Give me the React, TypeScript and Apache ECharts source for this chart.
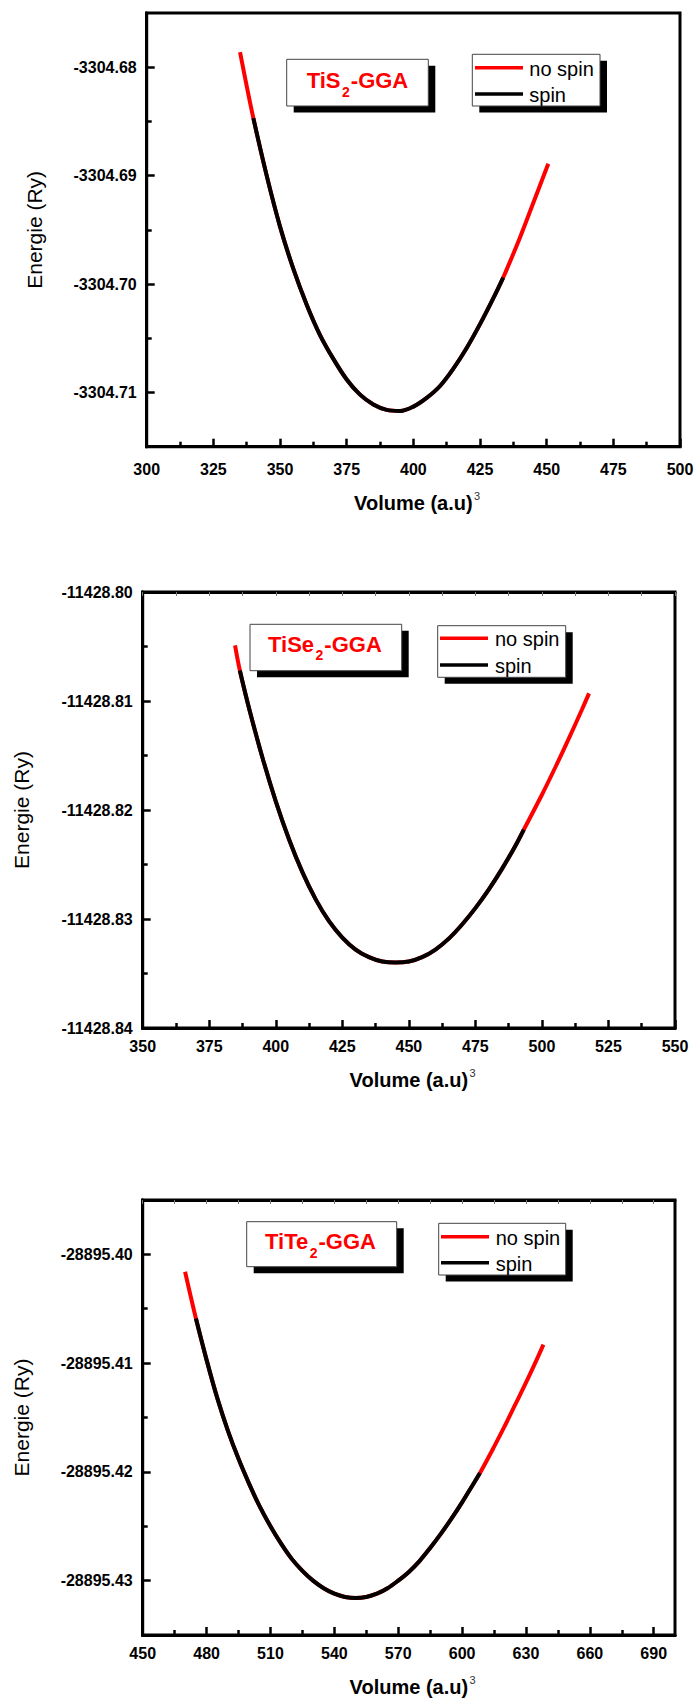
import React, { useEffect, useRef } from "react";
import * as echarts from "echarts";

const FONT = "Liberation Sans, Arial, Helvetica, sans-serif";

// ---------- TiS2 ----------
const tis2NoSpinVolume = [335.0, 340.0, 345.0, 350.0, 355.0, 360.0, 365.0, 370.0, 375.0, 380.0, 385.0, 390.0, 395.0, 400.0, 405.0, 410.0, 415.0, 420.0, 425.0, 430.0, 433.7, 440.0, 445.0, 450.6];
const tis2NoSpinEnergy = [-3304.6786, -3304.6847, -3304.69, -3304.6947, -3304.6986, -3304.7019, -3304.7047, -3304.7069, -3304.7088, -3304.7102, -3304.7111, -3304.7116, -3304.7117, -3304.7113, -3304.7105, -3304.7094, -3304.7078, -3304.7059, -3304.7037, -3304.7013, -3304.6994, -3304.6957, -3304.6925, -3304.6889];
const tis2SpinVolume = [340.0, 345.0, 350.0, 355.0, 360.0, 365.0, 370.0, 375.0, 380.0, 385.0, 390.0, 395.0, 400.0, 405.0, 410.0, 415.0, 420.0, 425.0, 430.0, 433.7];
const tis2SpinEnergy = [-3304.6847, -3304.69, -3304.6947, -3304.6986, -3304.7019, -3304.7047, -3304.7069, -3304.7088, -3304.7102, -3304.7111, -3304.7116, -3304.7117, -3304.7113, -3304.7105, -3304.7094, -3304.7078, -3304.7059, -3304.7037, -3304.7013, -3304.6994];
const tis2XTicks = [300, 325, 350, 375, 400, 425, 450, 475, 500];
const tis2XMinor = [312.5, 337.5, 362.5, 387.5, 412.5, 437.5, 462.5, 487.5];
const tis2YTicks = [-3304.71, -3304.7, -3304.69, -3304.68];
const tis2YMinor = [-3304.705, -3304.695, -3304.685];

// ---------- TiSe2 ----------
const tise2NoSpinVolume = [384.7, 386.5, 390, 395, 400, 405, 410, 415, 420, 425, 430, 435, 440, 445, 450, 455, 460, 465, 470, 475, 480, 485, 490, 493.2, 500, 505, 510, 515, 517.7];
const tise2NoSpinEnergy = [-11428.8049, -11428.8072, -11428.8107, -11428.8152, -11428.8192, -11428.8227, -11428.8257, -11428.8282, -11428.8302, -11428.8317, -11428.8328, -11428.8335, -11428.8339, -11428.834, -11428.8339, -11428.8335, -11428.8328, -11428.8318, -11428.8305, -11428.829, -11428.8273, -11428.8254, -11428.8233, -11428.8218, -11428.8186, -11428.8161, -11428.8135, -11428.8108, -11428.8093];
const tise2SpinVolume = [386.5, 390, 395, 400, 405, 410, 415, 420, 425, 430, 435, 440, 445, 450, 455, 460, 465, 470, 475, 480, 485, 490, 493.2];
const tise2SpinEnergy = [-11428.8072, -11428.8107, -11428.8152, -11428.8192, -11428.8227, -11428.8257, -11428.8282, -11428.8302, -11428.8317, -11428.8328, -11428.8335, -11428.8339, -11428.834, -11428.8339, -11428.8335, -11428.8328, -11428.8318, -11428.8305, -11428.829, -11428.8273, -11428.8254, -11428.8233, -11428.8218];
const tise2XTicks = [350, 375, 400, 425, 450, 475, 500, 525, 550];
const tise2XMinor = [362.5, 387.5, 412.5, 437.5, 462.5, 487.5, 512.5, 537.5];
const tise2YTicks = [-11428.84, -11428.83, -11428.82, -11428.81, -11428.8];
const tise2YMinor = [-11428.835, -11428.825, -11428.815, -11428.805];

// ---------- TiTe2 ----------
const tite2NoSpinVolume = [469.9, 475, 480, 485, 490, 495, 500, 505, 510, 515, 520, 525, 530, 535, 540, 545, 550, 555, 560, 565, 570, 575, 580, 585, 590, 595, 600, 605, 608.4, 615, 620, 625, 630, 635, 638.2];
const tite2NoSpinEnergy = [-28895.4016, -28895.4059, -28895.4097, -28895.4132, -28895.4162, -28895.4188, -28895.4211, -28895.4232, -28895.425, -28895.4266, -28895.428, -28895.4291, -28895.43, -28895.4307, -28895.4312, -28895.4315, -28895.4316, -28895.4315, -28895.4312, -28895.4307, -28895.43, -28895.4292, -28895.4282, -28895.427, -28895.4257, -28895.4243, -28895.4228, -28895.4212, -28895.4201, -28895.4177, -28895.4158, -28895.4138, -28895.4118, -28895.4097, -28895.4083];
const tite2SpinVolume = [475, 480, 485, 490, 495, 500, 505, 510, 515, 520, 525, 530, 535, 540, 545, 550, 555, 560, 565, 570, 575, 580, 585, 590, 595, 600, 605, 608.4];
const tite2SpinEnergy = [-28895.4059, -28895.4097, -28895.4132, -28895.4162, -28895.4188, -28895.4211, -28895.4232, -28895.425, -28895.4266, -28895.428, -28895.4291, -28895.43, -28895.4307, -28895.4312, -28895.4315, -28895.4316, -28895.4315, -28895.4312, -28895.4307, -28895.43, -28895.4292, -28895.4282, -28895.427, -28895.4257, -28895.4243, -28895.4228, -28895.4212, -28895.4201];
const tite2XTicks = [450, 480, 510, 540, 570, 600, 630, 660, 690];
const tite2XMinor = [465, 495, 525, 555, 585, 615, 645, 675];
const tite2YTicks = [-28895.43, -28895.42, -28895.41, -28895.4];
const tite2YMinor = [-28895.425, -28895.415, -28895.405];

const legendNames = ["no spin", "spin"];
const xTitle = "Volume (a.u)";
const yTitle = "Energie (Ry)";

const zip = (a: number[], b: number[]) => a.map((v, i) => [v, b[i]]);

const panels = [
  {
    left: 146.7, right: 680, top: 13, bottom: 446.7,
    xMin: 300, xMax: 500, yMin: -3304.715, yMax: -3304.675,
    xTicks: tis2XTicks, xMinor: tis2XMinor, yTicks: tis2YTicks, yMinor: tis2YMinor, topTicks: false,
    noSpin: zip(tis2NoSpinVolume, tis2NoSpinEnergy), spin: zip(tis2SpinVolume, tis2SpinEnergy),
    formula: ["TiS", "2", "-GGA"],
    labelBox: [286.7, 59.3, 141.6, 46.7], labelText: [306.7, 88.3],
    legendBox: [472.3, 54.3, 127.7, 51.7], legendLineX: 475, legendLineY: [67.7, 94], legendTextX: 529.3,
    yNameGap: 102, xLabelMargin: 15, xNameGap: 46,
  },
  {
    left: 142.7, right: 675, top: 592, bottom: 1028,
    xMin: 350, xMax: 550, yMin: -11428.84, yMax: -11428.8,
    xTicks: tise2XTicks, xMinor: tise2XMinor, yTicks: tise2YTicks, yMinor: tise2YMinor, topTicks: true,
    noSpin: zip(tise2NoSpinVolume, tise2NoSpinEnergy), spin: zip(tise2SpinVolume, tise2SpinEnergy),
    formula: ["TiSe", "2", "-GGA"],
    labelBox: [250, 624.3, 151.7, 46.4], labelText: [268, 651.7],
    legendBox: [437.7, 625.7, 128, 51.6], legendLineX: 440, legendLineY: [638.3, 665], legendTextX: 495,
    yNameGap: 111, xLabelMargin: 10, xNameGap: 42,
  },
  {
    left: 142.7, right: 675, top: 1200, bottom: 1635,
    xMin: 450, xMax: 700, yMin: -28895.435, yMax: -28895.395,
    xTicks: tite2XTicks, xMinor: tite2XMinor, yTicks: tite2YTicks, yMinor: tite2YMinor, topTicks: true,
    noSpin: zip(tite2NoSpinVolume, tite2NoSpinEnergy), spin: zip(tite2SpinVolume, tite2SpinEnergy),
    formula: ["TiTe", "2", "-GGA"],
    labelBox: [246.7, 1221.7, 150, 45], labelText: [265, 1249],
    legendBox: [438.7, 1223.3, 127, 51.7], legendLineX: 441, legendLineY: [1236.7, 1262.7], legendTextX: 495.7,
    yNameGap: 111, xLabelMargin: 10, xNameGap: 42,
  },
];

function measure(text: string, font: string): number {
  const ctx = document.createElement("canvas").getContext("2d");
  if (!ctx) return text.length * 10;
  ctx.font = font;
  return ctx.measureText(text).width;
}

function textEl(text: string, x: number, y: number, size: number, weight: string, fill: string) {
  return {
    type: "text",
    x,
    y,
    z: 100,
    silent: true,
    style: {
      text,
      fontSize: size,
      fontWeight: weight,
      fontFamily: FONT,
      fill,
      align: "left",
      textAlign: "left",
      verticalAlign: "middle",
      textVerticalAlign: "middle",
    },
  };
}

const lineAxis = { show: true, lineStyle: { color: "#000", width: 3 } };

function buildOption() {
  const grids: any[] = [];
  const xAxes: any[] = [];
  const yAxes: any[] = [];
  const series: any[] = [];
  const graphics: any[] = [];

  panels.forEach((p) => {
    const rect = {
      left: p.left,
      top: p.top,
      width: p.right - p.left,
      height: p.bottom - p.top,
      containLabel: false,
      outerBoundsMode: "none",
    };
    const gMain = grids.length;
    grids.push({ ...rect, show: true, borderColor: "#000", borderWidth: 3, backgroundColor: "transparent" });
    const gMinor = grids.length;
    grids.push({ ...rect, show: false });

    const xMain = xAxes.length;
    xAxes.push({
      type: "value",
      gridIndex: gMain,
      position: "bottom",
      min: p.xMin,
      max: p.xMax,
      name: xTitle,
      nameLocation: "middle",
      nameGap: p.xNameGap,
      nameTextStyle: { fontFamily: FONT, fontWeight: "bold", fontSize: 20, color: "#000" },
      axisLine: lineAxis,
      splitLine: { show: false },
      axisTick: { show: true, inside: true, length: 8, customValues: p.xTicks, lineStyle: { color: "#000", width: 2.5 } },
      axisLabel: {
        show: true,
        customValues: p.xTicks,
        margin: p.xLabelMargin,
        fontFamily: FONT,
        fontWeight: "bold",
        fontSize: 16,
        color: "#000",
        hideOverlap: false,
        formatter: (v: number) => String(Math.round(v)),
      },
    });
    if (p.topTicks) {
      xAxes.push({
        type: "value",
        gridIndex: gMain,
        position: "top",
        min: p.xMin,
        max: p.xMax,
        axisLine: lineAxis,
        splitLine: { show: false },
        axisLabel: { show: false },
        axisTick: {
          show: true,
          inside: true,
          length: 4,
          customValues: [...p.xTicks, ...p.xMinor],
          lineStyle: { color: "#777", width: 1 },
        },
      });
    }
    xAxes.push({
      type: "value",
      gridIndex: gMinor,
      position: "bottom",
      min: p.xMin,
      max: p.xMax,
      axisLine: lineAxis,
      splitLine: { show: false },
      axisLabel: { show: false },
      axisTick: { show: true, inside: true, length: 5, customValues: p.xMinor, lineStyle: { color: "#000", width: 2.5 } },
    });

    const yMain = yAxes.length;
    yAxes.push({
      type: "value",
      gridIndex: gMain,
      position: "left",
      min: p.yMin,
      max: p.yMax,
      name: yTitle,
      nameLocation: "middle",
      nameGap: p.yNameGap,
      nameRotate: 90,
      nameTextStyle: { fontFamily: FONT, fontWeight: "normal", fontSize: 21, color: "#000" },
      axisLine: lineAxis,
      splitLine: { show: false },
      axisTick: { show: true, inside: true, length: 8, customValues: p.yTicks, lineStyle: { color: "#000", width: 2.5 } },
      axisLabel: {
        show: true,
        customValues: p.yTicks,
        margin: 10,
        fontFamily: FONT,
        fontWeight: "bold",
        fontSize: 16,
        color: "#000",
        hideOverlap: false,
        formatter: (v: number) => v.toFixed(2),
      },
    });
    yAxes.push({
      type: "value",
      gridIndex: gMinor,
      position: "left",
      min: p.yMin,
      max: p.yMax,
      axisLine: lineAxis,
      splitLine: { show: false },
      axisLabel: { show: false },
      axisTick: { show: true, inside: true, length: 5, customValues: p.yMinor, lineStyle: { color: "#000", width: 2.5 } },
    });

    series.push({
      type: "line",
      name: legendNames[0],
      xAxisIndex: xMain,
      yAxisIndex: yMain,
      data: p.noSpin,
      smooth: 0.35,
      symbol: "none",
      showSymbol: false,
      lineStyle: { color: "#ff0000", width: 4 },
      z: 2,
    });
    series.push({
      type: "line",
      name: legendNames[1],
      xAxisIndex: xMain,
      yAxisIndex: yMain,
      data: p.spin,
      smooth: 0.35,
      symbol: "none",
      showSymbol: false,
      lineStyle: { color: "#000000", width: 4 },
      z: 3,
    });

    const [bx, by, bw, bh] = p.labelBox;
    graphics.push({ type: "rect", z: 90, silent: true, shape: { x: bx + 7, y: by + 6.5, width: bw, height: bh }, style: { fill: "#000" } });
    graphics.push({ type: "rect", z: 91, silent: true, shape: { x: bx, y: by, width: bw, height: bh }, style: { fill: "#fff", stroke: "#444", lineWidth: 1 } });
    const [tx, base] = p.labelText;
    const w1 = measure(p.formula[0], `bold 22px ${FONT}`);
    const w2 = measure(p.formula[1], `bold 14px ${FONT}`);
    graphics.push(textEl(p.formula[0], tx, base - 7.6, 22, "bold", "#ff0000"));
    graphics.push(textEl(p.formula[1], tx + w1 + 1.5, base + 3.5, 14, "bold", "#ff0000"));
    graphics.push(textEl(p.formula[2], tx + w1 + w2 + 2.5, base - 7.6, 22, "bold", "#ff0000"));

    const [lx, ly, lw, lh] = p.legendBox;
    graphics.push({ type: "rect", z: 90, silent: true, shape: { x: lx + 7, y: ly + 6.5, width: lw, height: lh }, style: { fill: "#000" } });
    graphics.push({ type: "rect", z: 91, silent: true, shape: { x: lx, y: ly, width: lw, height: lh }, style: { fill: "#fff", stroke: "#444", lineWidth: 1 } });
    const colors = ["#ff0000", "#000000"];
    p.legendLineY.forEach((yy, k) => {
      graphics.push({
        type: "line",
        z: 100,
        silent: true,
        shape: { x1: p.legendLineX, y1: yy, x2: p.legendLineX + 48, y2: yy },
        style: { stroke: colors[k], lineWidth: 3.5 },
      });
      graphics.push(textEl(legendNames[k], p.legendTextX, yy + 1, 20, "normal", "#000"));
    });

    const cx = (p.left + p.right) / 2;
    const tw = measure(xTitle, `bold 20px ${FONT}`);
    graphics.push(textEl("3", cx + tw / 2 + 1.5, p.bottom + p.xNameGap + 3, 11, "normal", "#333"));
  });

  return {
    animation: false,
    backgroundColor: "#ffffff",
    grid: grids,
    xAxis: xAxes,
    yAxis: yAxes,
    series,
    graphic: { elements: graphics },
  };
}

export default function App() {
  const ref = useRef<HTMLDivElement>(null);
  useEffect(() => {
    if (!ref.current) return;
    const chart = echarts.init(ref.current, undefined, { renderer: "svg", width: 694, height: 1704 });
    chart.setOption(buildOption() as any);
    return () => chart.dispose();
  }, []);
  return (
    <div
      ref={ref}
      style={{ position: "absolute", left: 0, top: 0, width: 694, height: 1704, background: "#fff" }}
    />
  );
}
